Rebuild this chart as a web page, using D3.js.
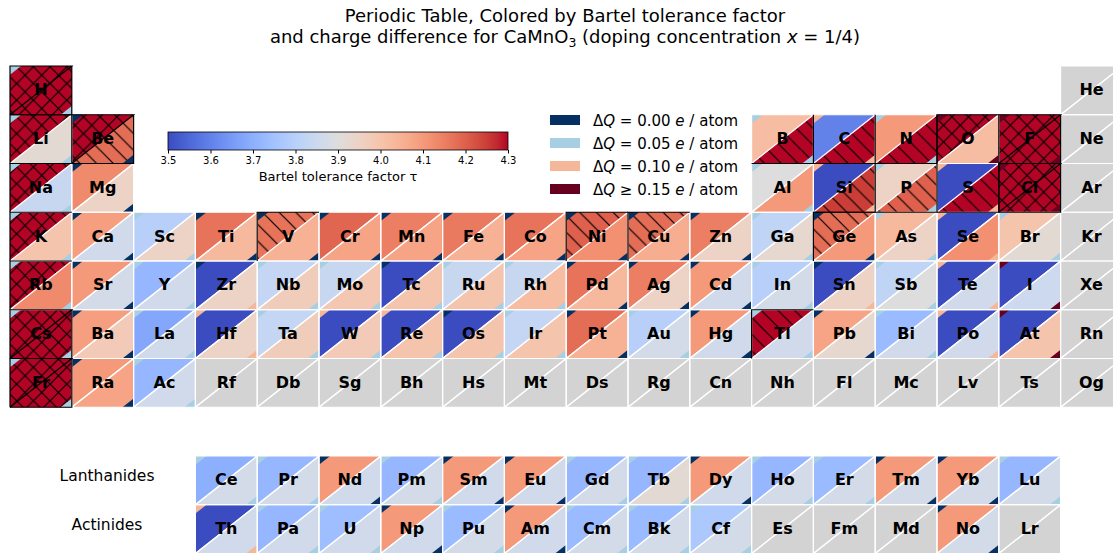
<!DOCTYPE html>
<html>
<head>
<meta charset="utf-8">
<script src="https://cdn.jsdelivr.net/npm/d3@7/dist/d3.min.js"></script>
<style>
body { margin: 0; background: #fff; }
text { font-family: "DejaVu Sans", sans-serif; }
</style>
</head>
<body>
<div id="chart"></div>
<script>

// element symbols by atomic number
const symbols = ["H","He","Li","Be","B","C","N","O","F","Ne",
    "Na","Mg","Al","Si","P","S","Cl","Ar","K","Ca",
    "Sc","Ti","V","Cr","Mn","Fe","Co","Ni","Cu","Zn",
    "Ga","Ge","As","Se","Br","Kr","Rb","Sr","Y","Zr",
    "Nb","Mo","Tc","Ru","Rh","Pd","Ag","Cd","In","Sn",
    "Sb","Te","I","Xe","Cs","Ba","La","Ce","Pr","Nd",
    "Pm","Sm","Eu","Gd","Tb","Dy","Ho","Er","Tm","Yb",
    "Lu","Hf","Ta","W","Re","Os","Ir","Pt","Au","Hg",
    "Tl","Pb","Bi","Po","At","Rn","Fr","Ra","Ac","Th",
    "Pa","U","Np","Pu","Am","Cm","Bk","Cf","Es","Fm",
    "Md","No","Lr","Rf","Db","Sg","Bh","Hs","Mt","Ds",
    "Rg","Cn","Nh","Fl","Mc","Lv","Ts","Og"];

// tolerance factor, upper-left triangle
const tauA = [4.35,null,4.35,4.35,4.02,3.60,4.10,4.35,4.35,null,
    4.35,4.13,3.90,3.45,3.95,3.45,4.35,null,4.35,4.09,
    3.80,4.17,4.17,4.19,4.15,4.16,4.17,4.20,4.18,4.15,
    3.82,4.18,4.03,3.45,4.00,null,4.35,4.10,3.72,3.45,
    3.83,3.84,3.45,3.84,3.84,4.17,4.15,4.10,3.80,3.45,
    3.82,3.45,3.45,null,4.35,4.09,3.68,3.70,3.72,4.10,
    3.72,4.10,4.10,3.72,3.72,4.10,3.72,3.73,4.10,4.10,
    3.72,3.45,3.83,3.45,3.45,3.45,3.83,4.18,3.80,4.10,
    4.35,4.08,3.73,3.45,3.45,null,4.35,4.10,3.72,3.45,
    3.72,3.74,4.10,3.73,4.10,3.73,3.73,3.77,null,null,
    null,4.10,null,null,null,null,null,null,null,null,
    null,null,null,null,null,null,null,null];

// tolerance factor, lower-right triangle
const tauB = [4.35,null,3.92,4.18,4.35,4.35,4.35,4.02,4.35,null,
    3.84,3.95,4.10,4.25,4.20,4.35,4.35,null,4.00,3.86,
    3.95,4.03,4.05,4.08,4.08,4.05,4.08,4.12,4.06,3.95,
    3.93,4.10,3.95,4.12,3.92,null,4.13,3.87,3.86,3.95,
    3.97,3.99,4.00,4.00,4.02,4.03,3.95,3.86,3.87,3.95,
    3.90,3.86,3.85,null,4.35,3.98,3.86,3.87,3.87,3.86,
    3.87,3.86,3.86,3.87,3.92,3.86,3.87,3.87,3.87,3.87,
    3.87,3.95,3.97,3.98,4.00,4.00,4.00,4.05,3.87,3.86,
    3.86,3.93,3.86,3.86,4.00,null,4.35,4.08,3.86,3.86,
    3.86,3.86,3.86,3.87,3.86,3.87,3.87,3.87,null,null,
    null,3.87,null,null,null,null,null,null,null,null,
    null,null,null,null,null,null,null,null];

// charge difference, top-left corner
const dqA = [0.05,null,0.05,0,0.05,0.10,0.05,0.15,0.15,null,
    0.05,0,0.05,0.10,0.05,0.10,0.15,null,0.05,0,
    0.05,0,0,0,0,0,0,0,0,0,
    0.05,0,0.05,0.10,0.05,null,0.05,0,0.05,0,
    0.05,0.05,0,0.05,0.05,0,0,0,0.05,0,
    0.05,0.10,0.15,null,0.05,0,0.05,0.05,0.05,0,
    0.05,0,0,0.05,0.05,0,0.05,0.05,0,0,
    0.05,0.10,0.05,0.10,0.10,0,0.05,0,0.05,0,
    0.05,0,0.05,0.10,0.15,null,0.05,0,0.05,0.10,
    0.05,0.05,0,0.05,0,0.05,0.05,0.05,null,null,
    null,0,null,null,null,null,null,null,null,null,
    null,null,null,null,null,null,null,null];

// charge difference, bottom-right corner
const dqB = [0.05,null,0.05,0,0.05,0.10,0.05,0.15,0.15,null,
    0.05,0,0.05,0.10,0.05,0.10,0.15,null,0.05,0,
    0.05,0,0,0,0,0,0,0,0,0,
    0.05,0,0.05,0.10,0.05,null,0.05,0,0.05,0.10,
    0.05,0.05,0.05,0.05,0.05,0,0,0,0.05,0.10,
    0.05,0.10,0.15,null,0.05,0,0.05,0.05,0.05,0,
    0.05,0,0,0.05,0.05,0,0.05,0.05,0,0,
    0.05,0.10,0.05,0.05,0.05,0.05,0.05,0,0.05,0,
    0.05,0,0.05,0.10,0.15,null,0.05,0,0.05,0.10,
    0.05,0.05,0,0.05,0,0.05,0.05,0.05,null,null,
    null,0,null,null,null,null,null,null,null,null,
    null,null,null,null,null,null,null,null];

// hatched triangles
const crossA = ["H","Li","Be","O","F","Na","Cl","K","Rb","Cs","Fr"];
const crossB = ["H","F","Cl","Cs","Fr"];
const backA = ["V","Ni","Cu","Ge","Tl"];
const backB = ["Be","B","C","N","Si","P","S"];

const dqLevels = [0, 0.05, 0.10, 0.15];
const dqNames = ["= 0.00", "= 0.05", "= 0.10", "\u2265 0.15"];
const cbarTicks = [3.5, 3.6, 3.7, 3.8, 3.9, 4.0, 4.1, 4.2, 4.3];

// matplotlib coolwarm
const coolwarm = ["#3b4cc0","#445acc","#4d68d7","#5775e1","#6282ea","#6c8ef1","#779af7","#82a5fb",
    "#8db0fe","#98b9ff","#a3c2ff","#aec9fd","#b8d0f9","#c2d5f4","#ccd9ee","#d5dbe6",
    "#dddddd","#e5d8d1","#ecd3c5","#f1ccb9","#f5c4ad","#f7bba0","#f7b194","#f7a687",
    "#f49a7b","#f18d6f","#ec7f63","#e57058","#de604d","#d55042","#cb3e38","#c0282f","#b40426"];

const width = 1113;
const height = 554;

const svg = d3.select("#chart")
    .append("svg")
    .attr("width", width)
    .attr("height", height);

const xScale = d3.scaleLinear().domain([0, 18]).range([10, 10 + 18 * 61.8]);
const yScale = d3.scaleLinear().domain([0, 10]).range([66, 66 + 10 * 48.75]);
const cw = xScale(1) - xScale(0);
const ch = yScale(1) - yScale(0);

const tauColor = d3.scaleLinear()
    .domain(d3.range(coolwarm.length).map(i => 3.5 + 0.8 * i / (coolwarm.length - 1)))
    .range(coolwarm)
    .clamp(true);

const dqColor = d3.scaleThreshold()
    .domain([0.025, 0.075, 0.125])
    .range(["#053061", "#a6cfe3", "#f5b799", "#67001f"]);

function position(z) {
    if (z === 1) return [0, 0];
    if (z === 2) return [0, 17];
    if (z <= 4) return [1, z - 3];
    if (z <= 10) return [1, z - 5 + 12];
    if (z <= 12) return [2, z - 11];
    if (z <= 18) return [2, z - 13 + 12];
    if (z <= 36) return [3, z - 19];
    if (z <= 54) return [4, z - 37];
    if (z <= 56) return [5, z - 55];
    if (z === 57) return [5, 2];
    if (z <= 71) return [8, z - 58 + 3];
    if (z <= 86) return [5, z - 72 + 3];
    if (z <= 88) return [6, z - 87];
    if (z === 89) return [6, 2];
    if (z <= 103) return [9, z - 90 + 3];
    return [6, z - 104 + 3];
}

const cells = symbols.map(function(s, i) {
    const p = position(i + 1);
    const hA = crossA.includes(s) ? "x" : (backA.includes(s) ? "back" : "");
    const hB = crossB.includes(s) ? "x" : (backB.includes(s) ? "back" : "");
    return {sym: s, x: xScale(p[1]), y: yScale(p[0]), tA: tauA[i], tB: tauB[i],
        qA: dqA[i], qB: dqB[i], hA: hA, hB: hB};
});

/*
HATCH PATTERNS
*/
const defs = svg.append("defs");
const hs = 16.7;
const back = defs.append("pattern").attr("id", "hatch-back")
    .attr("patternUnits", "userSpaceOnUse").attr("width", hs).attr("height", hs);
back.append("path")
    .attr("d", `M0,0L${hs},${hs}M-2,${hs-2}L2,${hs+2}M${hs-2},-2L${hs+2},2`)
    .attr("stroke", "black").attr("stroke-width", 1.2);
const cross = defs.append("pattern").attr("id", "hatch-x")
    .attr("patternUnits", "userSpaceOnUse").attr("width", hs).attr("height", hs);
cross.append("path")
    .attr("d", `M0,0L${hs},${hs}M-2,${hs-2}L2,${hs+2}M${hs-2},-2L${hs+2},2` +
        `M0,${hs}L${hs},0M-2,2L2,-2M${hs-2},${hs+2}L${hs+2},${hs-2}`)
    .attr("stroke", "black").attr("stroke-width", 1.2);

/*
CELL GEOMETRY
*/
function upper(d) { return `M${d.x},${d.y}L${d.x+cw},${d.y}L${d.x},${d.y+ch}Z`; }
function lower(d) { return `M${d.x+cw},${d.y}L${d.x+cw},${d.y+ch}L${d.x},${d.y+ch}Z`; }
const f = 0.18;
function cornerA(d) { return `M${d.x},${d.y}L${d.x+f*cw},${d.y}L${d.x},${d.y+f*ch}Z`; }
function cornerB(d) { return `M${d.x+cw},${d.y+ch}L${d.x+cw-f*cw},${d.y+ch}L${d.x+cw},${d.y+ch-f*ch}Z`; }
function hatchUrl(h) { return h === "x" ? "url(#hatch-x)" : "url(#hatch-back)"; }

const gCells = svg.append("g");

gCells.selectAll(".upper").data(cells).enter().append("path")
    .attr("d", upper)
    .attr("fill", d => d.tA === null ? "#d3d3d3" : tauColor(d.tA));
gCells.selectAll(".lower").data(cells).enter().append("path")
    .attr("d", lower)
    .attr("fill", d => d.tB === null ? "#d3d3d3" : tauColor(d.tB));

gCells.selectAll(".hatchA").data(cells.filter(d => d.hA)).enter().append("path")
    .attr("d", upper).attr("fill", d => hatchUrl(d.hA));
gCells.selectAll(".hatchB").data(cells.filter(d => d.hB)).enter().append("path")
    .attr("d", lower).attr("fill", d => hatchUrl(d.hB));

gCells.selectAll(".cornerA").data(cells.filter(d => d.qA !== null)).enter().append("path")
    .attr("d", cornerA).attr("fill", d => dqColor(d.qA));
gCells.selectAll(".cornerB").data(cells.filter(d => d.qB !== null)).enter().append("path")
    .attr("d", cornerB).attr("fill", d => dqColor(d.qB));

// white edges
gCells.selectAll(".edgeA").data(cells.filter(d => !d.hA)).enter().append("path")
    .attr("d", upper).attr("fill", "none").attr("stroke", "white").attr("stroke-width", 1.2);
gCells.selectAll(".edgeB").data(cells.filter(d => !d.hB)).enter().append("path")
    .attr("d", lower).attr("fill", "none").attr("stroke", "white").attr("stroke-width", 1.2);

// black edges of hatched triangles
gCells.selectAll(".blackA").data(cells.filter(d => d.hA)).enter().append("path")
    .attr("d", d => `M${d.x},${d.y+ch}L${d.x},${d.y}L${d.x+cw},${d.y}` + (d.hB ? `L${d.x},${d.y+ch}` : ""))
    .attr("fill", "none").attr("stroke", "black").attr("stroke-width", 1.2);
gCells.selectAll(".blackB").data(cells.filter(d => d.hB)).enter().append("path")
    .attr("d", d => `M${d.x+cw},${d.y}L${d.x+cw},${d.y+ch}L${d.x},${d.y+ch}`)
    .attr("fill", "none").attr("stroke", "black").attr("stroke-width", 1.2);

gCells.selectAll(".sym").data(cells).enter().append("text")
    .attr("x", d => d.x + cw / 2)
    .attr("y", d => d.y + ch / 2 + 5)
    .attr("text-anchor", "middle")
    .attr("font-size", 16)
    .attr("font-weight", "bold")
    .text(d => d.sym);

svg.append("text").attr("x", 107).attr("y", yScale(8.5) + 1)
    .attr("text-anchor", "middle").attr("font-size", 15.5).text("Lanthanides");
svg.append("text").attr("x", 107).attr("y", yScale(9.5) + 1)
    .attr("text-anchor", "middle").attr("font-size", 15.5).text("Actinides");

/*
TITLE
*/
svg.append("text").attr("x", 565).attr("y", 22).attr("text-anchor", "middle")
    .attr("font-size", 18).text("Periodic Table, Colored by Bartel tolerance factor");
const t2 = svg.append("text").attr("x", 565).attr("y", 43).attr("text-anchor", "middle")
    .attr("font-size", 18);
t2.append("tspan").text("and charge difference for CaMnO");
t2.append("tspan").attr("dy", 4).attr("font-size", 12.5).text("3");
t2.append("tspan").attr("dy", -4).text(" (doping concentration ");
t2.append("tspan").attr("font-style", "italic").text("x");
t2.append("tspan").text(" = 1/4)");

/*
COLORBAR
*/
const cScale = d3.scaleLinear().domain([3.5, 4.3]).range([168, 508]);
const grad = defs.append("linearGradient").attr("id", "cbar");
grad.selectAll("stop").data(coolwarm).enter().append("stop")
    .attr("offset", (d, i) => i / (coolwarm.length - 1))
    .attr("stop-color", d => d);
svg.append("rect").attr("x", 168).attr("y", 132).attr("width", 340).attr("height", 18)
    .attr("fill", "url(#cbar)").attr("stroke", "black").attr("stroke-width", 0.8);
const cAxis = svg.append("g")
    .attr("transform", "translate(0,150)")
    .call(d3.axisBottom(cScale).tickValues(cbarTicks).tickFormat(d3.format(".1f")).tickSize(3.5));
cAxis.select(".domain").remove();
cAxis.selectAll("text").attr("font-size", 10).attr("font-family", "DejaVu Sans");
svg.append("text").attr("x", 338).attr("y", 181).attr("text-anchor", "middle")
    .attr("font-size", 13).text("Bartel tolerance factor \u03c4");

/*
LEGEND
*/
const leg = svg.selectAll(".leg").data(dqLevels).enter().append("g")
    .attr("transform", (d, i) => `translate(550,${120 + i * 23})`);
leg.append("rect").attr("x", 0).attr("y", -5).attr("width", 30).attr("height", 10)
    .attr("fill", d => dqColor(d));
const lt = leg.append("text").attr("x", 43).attr("y", 5.5).attr("font-size", 15);
lt.append("tspan").text("\u0394");
lt.append("tspan").attr("font-style", "italic").text("Q");
lt.append("tspan").text((d, i) => " " + dqNames[i] + " ");
lt.append("tspan").attr("font-style", "italic").text("e");
lt.append("tspan").text(" / atom");

</script>
</body>
</html>
